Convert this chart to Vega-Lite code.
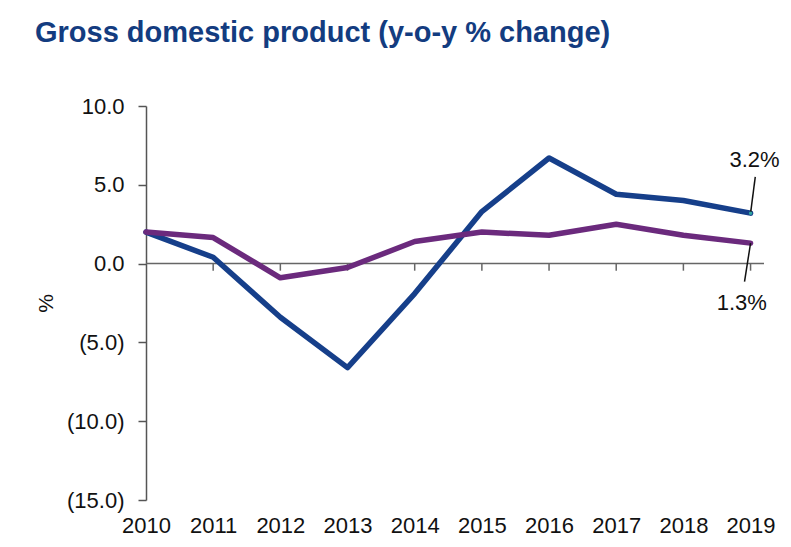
{
  "$schema": "https://vega.github.io/schema/vega-lite/v6.json",
  "width": 618,
  "height": 394,
  "autosize": {"type": "none"},
  "padding": {"left": 146, "top": 106, "right": 27, "bottom": 47},
  "background": "white",
  "title": {
    "text": "Gross domestic product (y-o-y % change)",
    "anchor": "start",
    "frame": "group",
    "dx": -111,
    "offset": 47,
    "fontSize": 29,
    "fontWeight": "bold",
    "color": "#133c80",
    "font": "Liberation Sans"
  },
  "config": {
    "view": {"stroke": null},
    "font": "Liberation Sans",
    "axis": {"labelColor": "#111", "titleColor": "#111", "grid": false}
  },
  "datasets": {
    "gdp": [
      {"year": 2010, "series": "A", "value": 2.0},
      {"year": 2011, "series": "A", "value": 0.4},
      {"year": 2012, "series": "A", "value": -3.4},
      {"year": 2013, "series": "A", "value": -6.6},
      {"year": 2014, "series": "A", "value": -1.9},
      {"year": 2015, "series": "A", "value": 3.3},
      {"year": 2016, "series": "A", "value": 6.7},
      {"year": 2017, "series": "A", "value": 4.4},
      {"year": 2018, "series": "A", "value": 4.0},
      {"year": 2019, "series": "A", "value": 3.2},
      {"year": 2010, "series": "B", "value": 2.0},
      {"year": 2011, "series": "B", "value": 1.65},
      {"year": 2012, "series": "B", "value": -0.9},
      {"year": 2013, "series": "B", "value": -0.25},
      {"year": 2014, "series": "B", "value": 1.4},
      {"year": 2015, "series": "B", "value": 2.0},
      {"year": 2016, "series": "B", "value": 1.8},
      {"year": 2017, "series": "B", "value": 2.5},
      {"year": 2018, "series": "B", "value": 1.8},
      {"year": 2019, "series": "B", "value": 1.3}
    ],
    "zero": [{"x": 2010, "x2": 2019.2, "y": 0}],
    "ticks": [
      {"year": 2011, "y": 0, "y2": -0.45},
      {"year": 2012, "y": 0, "y2": -0.45},
      {"year": 2013, "y": 0, "y2": -0.45},
      {"year": 2014, "y": 0, "y2": -0.45},
      {"year": 2015, "y": 0, "y2": -0.45},
      {"year": 2016, "y": 0, "y2": -0.45},
      {"year": 2017, "y": 0, "y2": -0.45},
      {"year": 2018, "y": 0, "y2": -0.45},
      {"year": 2019, "y": 0, "y2": -0.45}
    ],
    "leaders": [
      {"x": 2019, "y": 3.2, "x2": 2019.07, "y2": 5.5},
      {"x": 2019, "y": 1.3, "x2": 2018.91, "y2": -1.15}
    ],
    "labels": [
      {"x": 2019.06, "y": 6.6, "label": "3.2%"},
      {"x": 2018.87, "y": -2.5, "label": "1.3%"}
    ],
    "endpoint": [{"x": 2019, "y": 3.2}]
  },
  "layer": [
    {
      "data": {"name": "zero"},
      "mark": {"type": "rule", "color": "#666", "strokeWidth": 1.5},
      "encoding": {
        "x": {"field": "x", "type": "quantitative", "scale": {"domain": [2010, 2019.2], "nice": false, "zero": false}},
        "x2": {"field": "x2"},
        "y": {"field": "y", "type": "quantitative", "scale": {"domain": [-15, 10], "nice": false}}
      }
    },
    {
      "data": {"name": "ticks"},
      "mark": {"type": "rule", "color": "#666", "strokeWidth": 1.5},
      "encoding": {
        "x": {"field": "year", "type": "quantitative"},
        "y": {"field": "y", "type": "quantitative"},
        "y2": {"field": "y2"}
      }
    },
    {
      "data": {"name": "gdp"},
      "mark": {"type": "line", "strokeWidth": 5.5, "strokeJoin": "round", "strokeCap": "round"},
      "encoding": {
        "x": {
          "field": "year", "type": "quantitative",
          "axis": {
            "values": [2010, 2011, 2012, 2013, 2014, 2015, 2016, 2017, 2018, 2019],
            "format": "d", "title": null, "domain": false, "ticks": false,
            "labelFontSize": 22, "labelPadding": 15, "labelFlush": false
          }
        },
        "y": {
          "field": "value", "type": "quantitative",
          "axis": {
            "values": [-15, -10, -5, 0, 5, 10],
            "labelExpr": "datum.value < 0 ? '(' + format(-datum.value, '.1f') + ')' : format(datum.value, '.1f')",
            "title": "%", "titleFontSize": 21, "titleFontWeight": "normal", "titlePadding": 10,
            "labelFontSize": 22, "labelPadding": 14, "tickSize": 8,
            "domainColor": "#555", "tickColor": "#555", "domainWidth": 1.5, "tickWidth": 1.5
          }
        },
        "color": {"field": "series", "type": "nominal", "legend": null,
          "scale": {"domain": ["A", "B"], "range": ["#163f8a", "#6b2a7d"]}}
      }
    },
    {
      "data": {"name": "leaders"},
      "mark": {"type": "rule", "color": "#111", "strokeWidth": 1.5},
      "encoding": {
        "x": {"field": "x", "type": "quantitative"},
        "x2": {"field": "x2"},
        "y": {"field": "y", "type": "quantitative"},
        "y2": {"field": "y2"}
      }
    },
    {
      "data": {"name": "endpoint"},
      "mark": {"type": "point", "filled": true, "size": 12, "color": "#2fa6a0", "opacity": 1},
      "encoding": {
        "x": {"field": "x", "type": "quantitative"},
        "y": {"field": "y", "type": "quantitative"}
      }
    },
    {
      "data": {"name": "labels"},
      "mark": {"type": "text", "fontSize": 22, "color": "#111", "align": "center", "baseline": "middle"},
      "encoding": {
        "x": {"field": "x", "type": "quantitative"},
        "y": {"field": "y", "type": "quantitative"},
        "text": {"field": "label"}
      }
    }
  ]
}
